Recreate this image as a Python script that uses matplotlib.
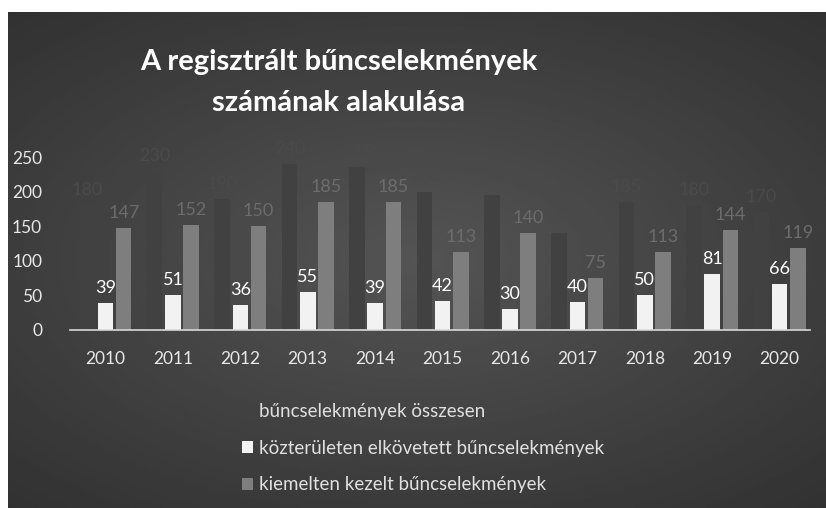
import numpy as np
import matplotlib.pyplot as plt
from matplotlib.patches import Patch

plt.rcParams['font.family'] = ['Lato', 'DejaVu Sans']

years = ['2010', '2011', '2012', '2013', '2014', '2015', '2016', '2017', '2018', '2019', '2020']
osszesen = [180, 230, 190, 240, 235, 200, 195, 140, 185, 180, 170]
kozterulet = [39, 51, 36, 55, 39, 42, 30, 40, 50, 81, 66]
kiemelt = [147, 152, 150, 185, 185, 113, 140, 75, 113, 144, 119]

labels = ['bűncselekmények összesen',
          'közterületen elkövetett bűncselekmények',
          'kiemelten kezelt bűncselekmények']
colors = ['#414141', '#f2f2f2', '#7e7e7e']
txt_colors = ['#4a4a4a', 'white', '#6c6c6c']

W, H = 826, 508
fig = plt.figure(figsize=(W / 100, H / 100), dpi=100)
fig.patch.set_facecolor('white')

# dark slide background with a soft lighter centre
bg = fig.add_axes([8 / W, 0, 1 - 8 / W, 1 - 12 / H])
yy, xx = np.mgrid[-1:1:200j, -1:1:300j]
r = np.sqrt((xx / 1.1) ** 2 + (yy / 1.0) ** 2)
shade = 0.33 - 0.10 * np.clip(r, 0, 1.4)
bg.imshow(shade, cmap='gray', vmin=0, vmax=1, aspect='auto', extent=[0, 1, 0, 1])
bg.axis('off')

ax = fig.add_axes([70 / W, (H - 330) / H, 740 / W, 173 / H])
ax.patch.set_alpha(0)
x = np.arange(len(years))
w = 0.23
series = [osszesen, kozterulet, kiemelt]
offsets = [-0.27, 0, 0.27]
for vals, off, c, tc in zip(series, offsets, colors, txt_colors):
    bars = ax.bar(x + off, vals, width=w, color=c)
    ax.bar_label(bars, labels=[str(v) for v in vals], padding=5,
                 color=tc, fontsize=13)

ax.set_xlim(-0.527, 10.45)
ax.set_ylim(0, 250)
ax.set_yticks([0, 50, 100, 150, 200, 250])
ax.set_xticks(x)
ax.set_xticklabels(years)
ax.tick_params(axis='both', length=0, colors='#e8e8e8', labelsize=12.5)
ax.tick_params(axis='x', pad=15)
ax.tick_params(axis='y', pad=20)
for s in ['top', 'right', 'left']:
    ax.spines[s].set_visible(False)
ax.spines['bottom'].set_color('#d8d8d8')
ax.spines['bottom'].set_linewidth(1.2)

fig.text(339 / W, 1 - 62 / H, 'A regisztrált bűncselekmények', ha='center', va='center',
         color='white', fontsize=21, fontweight='bold')
fig.text(339 / W, 1 - 103 / H, 'számának alakulása', ha='center', va='center',
         color='white', fontsize=21, fontweight='bold')

handles = [Patch(facecolor=c) for c in colors]
leg = fig.legend(handles, labels, loc='upper left', bbox_to_anchor=(225 / W, 1 - 386 / H),
                 frameon=False, fontsize=13.5, labelspacing=1.05, handlelength=0.6,
                 handleheight=0.6, handletextpad=0.3, labelcolor='#e0e0e0')

fig.savefig('out.png', dpi=100)
